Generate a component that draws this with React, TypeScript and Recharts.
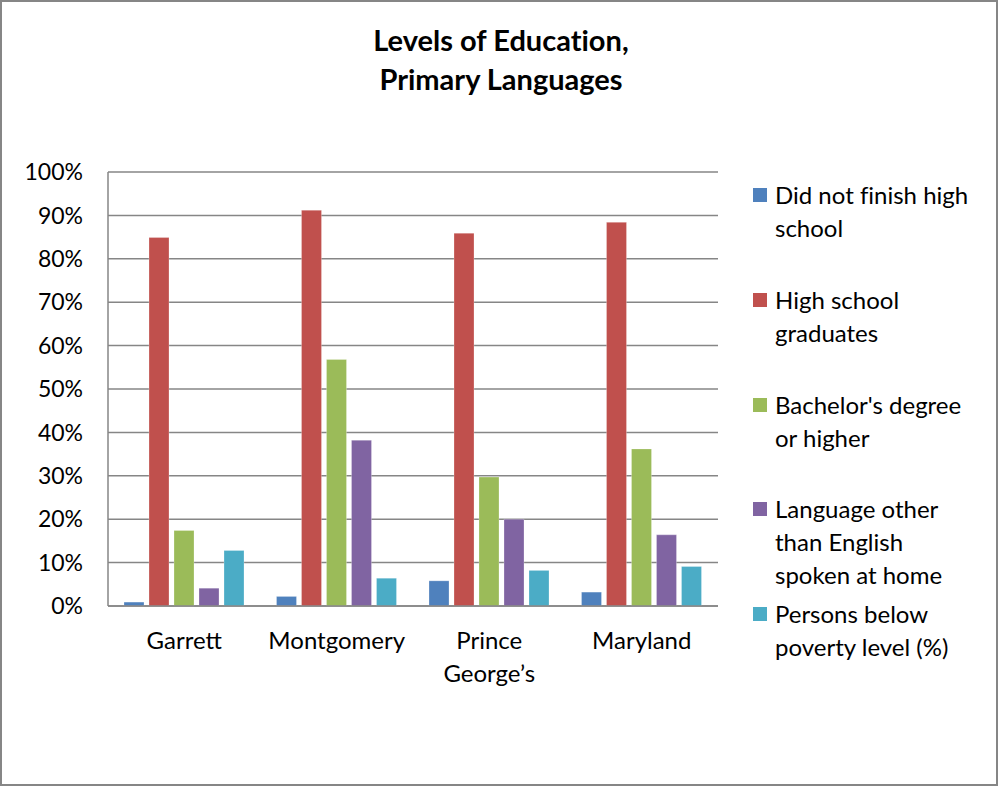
import React from 'react';
import { BarChart, Bar, XAxis, YAxis, CartesianGrid, Legend } from 'recharts';

// Counties / state on the category axis
const categories = ['Garrett', 'Montgomery', 'Prince George’s', 'Maryland'];

// Values in percent
const didNotFinish = [0.9, 2.2, 5.8, 3.2];
const hsGraduates = [84.9, 91.2, 85.9, 88.4];
const bachelors = [17.4, 56.8, 29.7, 36.2];
const otherLanguage = [4.1, 38.2, 20.0, 16.4];
const belowPoverty = [12.8, 6.4, 8.2, 9.1];

const yTicks = [0, 10, 20, 30, 40, 50, 60, 70, 80, 90, 100];

const SERIES = [
  { key: 'dnf', name: 'Did not finish high school', lines: ['Did not finish high', 'school'], color: '#4F81BD', values: didNotFinish },
  { key: 'hs', name: 'High school graduates', lines: ['High school', 'graduates'], color: '#C0504D', values: hsGraduates },
  { key: 'ba', name: "Bachelor's degree or higher", lines: ["Bachelor's degree", 'or higher'], color: '#9BBB59', values: bachelors },
  { key: 'lang', name: 'Language other than English spoken at home', lines: ['Language other', 'than English', 'spoken at home'], color: '#8064A2', values: otherLanguage },
  { key: 'pov', name: 'Persons below poverty level (%)', lines: ['Persons below', 'poverty level (%)'], color: '#4BACC6', values: belowPoverty },
];

const FONT = 'Lato, "Open Sans", sans-serif';
const AXIS_GREY = '#868686';

const chartData = categories.map((name, i) => {
  const row: Record<string, any> = { name };
  SERIES.forEach((s) => {
    row[s.key] = s.values[i];
  });
  return row;
});

const CategoryTick = (props: any) => {
  const { x, y, payload } = props;
  const words = String(payload.value).split(' ');
  return (
    <text x={x} y={y} textAnchor="middle" fontSize={24} fontFamily={FONT} fill="#000">
      {words.map((w, i) => (
        <tspan key={i} x={x} dy={i === 0 ? 35 : 33}>
          {w}
        </tspan>
      ))}
    </text>
  );
};

const LegendContent = () => (
  <div style={{ fontFamily: FONT, fontSize: 24, color: '#000', fontVariantLigatures: 'none' }}>
    {SERIES.map((s) => (
      <div key={s.key} style={{ height: 104.75, display: 'flex', alignItems: 'flex-start' }}>
        <div
          style={{
            width: 14,
            height: 14,
            background: s.color,
            marginTop: 10,
            marginRight: 8,
            flex: 'none',
          }}
        />
        <div style={{ lineHeight: '33px', whiteSpace: 'nowrap' }}>
          {s.lines.map((l, i) => (
            <div key={i}>{l}</div>
          ))}
        </div>
      </div>
    ))}
  </div>
);

export default function App() {
  return (
    <div
      style={{
        position: 'absolute',
        left: 0,
        top: 0,
        width: 998,
        height: 786,
        boxSizing: 'border-box',
        border: `2px solid ${AXIS_GREY}`,
        background: '#fff',
      }}
    >
      <div
        style={{
          position: 'absolute',
          left: 0,
          top: 18,
          width: 998,
          textAlign: 'center',
          fontFamily: FONT,
          fontWeight: 700,
          fontSize: 29,
          lineHeight: '39px',
          color: '#000',
          fontVariantLigatures: 'none',
        }}
      >
        Levels of Education,
        <br />
        Primary Languages
      </div>
      <div style={{ position: 'absolute', left: -2, top: -2 }}>
        <BarChart
          width={998}
          height={786}
          data={chartData}
          margin={{ top: 172, right: 280, bottom: 150, left: 0 }}
          barCategoryGap={16}
          barGap={5}
        >
          <CartesianGrid vertical={false} stroke={AXIS_GREY} strokeWidth={1.5} />
          <XAxis
            dataKey="name"
            height={30}
            tickLine={false}
            axisLine={{ stroke: AXIS_GREY, strokeWidth: 1.5 }}
            tick={<CategoryTick />}
            interval={0}
          />
          <YAxis
            width={108}
            domain={[0, 100]}
            ticks={yTicks}
            tickFormatter={(v) => `${v}%`}
            tickLine={false}
            tickMargin={19}
            axisLine={{ stroke: AXIS_GREY, strokeWidth: 1.5 }}
            tick={{ fill: '#000', fontSize: 23, fontFamily: FONT }}
            interval={0}
          />
          <Legend
            layout="vertical"
            align="center"
            verticalAlign="middle"
            content={<LegendContent />}
            wrapperStyle={{ left: 753, top: 178, width: 240 }}
          />
          {SERIES.map((s) => (
            <Bar
              key={s.key}
              dataKey={s.key}
              name={s.name}
              fill={s.color}
              stroke="rgba(255,255,255,0.5)"
              strokeWidth={0.5}
              isAnimationActive={false}
            />
          ))}
        </BarChart>
      </div>
    </div>
  );
}
